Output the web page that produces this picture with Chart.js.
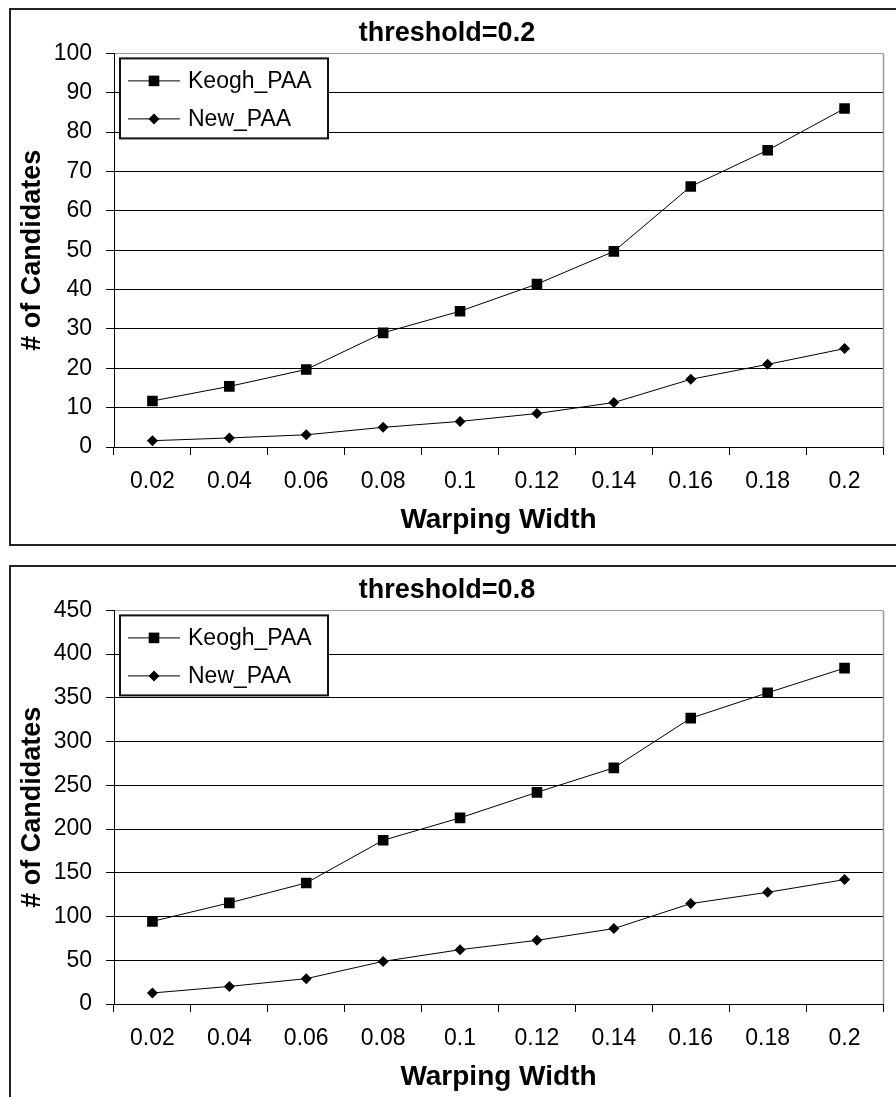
<!DOCTYPE html>
<html lang="en">
<head>
 <meta charset="UTF-8">
 <script src="https://cdn.jsdelivr.net/npm/chart.js"></script>
 <title>Candidates vs Warping Width</title>
 <style>
    * {
        margin: 0;
        padding: 0;
        box-sizing: content-box;
    }
    body {
        background: #fff;
        width: 896px;
        height: 1097px;
        overflow: hidden;
        position: relative;
    }
    .panel {
        position: absolute;
        left: 9px;
        width: 885px;
        height: 534px;
        border: 2px solid #222;
        background: #fff;
    }
    #panelLow { top: 8px; }
    #panelHigh { top: 565px; }
    canvas { display: block; }
 </style>
</head>
<body>

<div class="panel" id="panelLow"><canvas id="chartLow" width="885" height="534"></canvas></div>
<div class="panel" id="panelHigh"><canvas id="chartHigh" width="885" height="534"></canvas></div>

<script>
// data block
const warpWidths = ['0.02', '0.04', '0.06', '0.08', '0.1', '0.12', '0.14', '0.16', '0.18', '0.2'];

// threshold = 0.2
const keoghLow = [11.7, 15.4, 19.7, 29.0, 34.5, 41.4, 49.7, 66.2, 75.4, 86.0];
const newLow   = [1.6, 2.3, 3.1, 5.0, 6.5, 8.5, 11.3, 17.2, 21.0, 25.0];
const ticksLow = [0, 10, 20, 30, 40, 50, 60, 70, 80, 90, 100];

// threshold = 0.8
const keoghHigh = [94.5, 115.6, 138.4, 187.2, 212.8, 242, 270, 326.8, 355.8, 384];
const newHigh   = [12.6, 20.1, 29, 48.7, 62.1, 72.8, 86.2, 114.8, 127.7, 142.2];
const ticksHigh = [0, 50, 100, 150, 200, 250, 300, 350, 400, 450];

const FONT = "'Liberation Sans', Arial, sans-serif";

// draws one marker the same way for the plot and the legend
function marker(ctx, style, r, x, y) {
    ctx.beginPath();
    if (style === 'rect') {
        const s = r * Math.SQRT1_2;
        ctx.rect(x - s, y - s, 2 * s, 2 * s);
    } else {
        ctx.moveTo(x, y - r);
        ctx.lineTo(x + r, y);
        ctx.lineTo(x, y + r);
        ctx.lineTo(x - r, y);
        ctx.closePath();
    }
    ctx.fill();
}

// plot area frame on the right side (grey like the top grid line)
const frame = {
    id: 'frame',
    beforeDatasetsDraw(chart) {
        const { ctx, chartArea: { top, right, bottom } } = chart;
        ctx.save();
        ctx.strokeStyle = '#999';
        ctx.lineWidth = 1.5;
        const x = Math.round(right) + 0.5;
        ctx.beginPath();
        ctx.moveTo(x, top);
        ctx.lineTo(x, bottom);
        ctx.stroke();
        ctx.restore();
    }
};

// boxed legend inside the plot area, line + marker for each series
const boxLegend = {
    id: 'boxLegend',
    afterDraw(chart) {
        const { ctx, chartArea: { left, top } } = chart;
        const bx = left + 6, by = top + 5, bw = 208, bh = 80;
        ctx.save();
        ctx.fillStyle = '#fff';
        ctx.fillRect(bx, by, bw, bh);
        ctx.strokeStyle = '#111';
        ctx.lineWidth = 2;
        ctx.strokeRect(bx, by, bw, bh);
        chart.data.datasets.forEach((ds, i) => {
            const y = by + 22 + i * 38;
            ctx.strokeStyle = ds.borderColor;
            ctx.lineWidth = ds.borderWidth;
            ctx.beginPath();
            ctx.moveTo(bx + 8, y + 0.5);
            ctx.lineTo(bx + 60, y + 0.5);
            ctx.stroke();
            ctx.fillStyle = ds.pointBackgroundColor;
            marker(ctx, ds.pointStyle, ds.pointRadius, bx + 34, y + 0.5);
            ctx.fillStyle = '#000';
            ctx.font = '23px ' + FONT;
            ctx.textAlign = 'left';
            ctx.textBaseline = 'middle';
            ctx.fillText(ds.label, bx + 68, y + 1);
        });
        ctx.restore();
    }
};

function makeChart(id, title, keogh, newPaa, yTicks) {
    const yMax = yTicks[yTicks.length - 1];
    return new Chart(document.getElementById(id), {
        type: 'line',
        data: {
            labels: warpWidths,
            datasets: [{
                label: 'Keogh_PAA',
                data: keogh,
                borderColor: '#000',
                borderWidth: 1,
                pointStyle: 'rect',
                pointRadius: 7.5,
                pointBackgroundColor: '#000',
                pointBorderWidth: 0,
                tension: 0
            }, {
                label: 'New_PAA',
                data: newPaa,
                borderColor: '#000',
                borderWidth: 1,
                pointStyle: 'rectRot',
                pointRadius: 5.5,
                pointBackgroundColor: '#000',
                pointBorderWidth: 0,
                tension: 0
            }]
        },
        options: {
            responsive: false,
            animation: false,
            layout: { padding: { left: 0, right: 13, top: 0, bottom: 0 } },
            plugins: {
                legend: { display: false },
                tooltip: { enabled: false },
                title: {
                    display: true,
                    text: title,
                    color: '#000',
                    font: { family: FONT, size: 27, weight: 'bold' },
                    padding: { top: 7, bottom: 4 }
                }
            },
            scales: {
                x: {
                    type: 'category',
                    offset: true,
                    grid: {
                        offset: true,
                        drawOnChartArea: false,
                        drawTicks: true,
                        tickLength: 8,
                        color: '#000',
                        tickColor: '#000'
                    },
                    border: { display: true, color: '#000', width: 1 },
                    ticks: {
                        color: '#000',
                        font: { family: FONT, size: 23 },
                        padding: 13,
                        autoSkip: false,
                        maxRotation: 0
                    },
                    title: {
                        display: true,
                        text: 'Warping Width',
                        color: '#000',
                        font: { family: FONT, size: 28, weight: 'bold' },
                        padding: { top: 0, bottom: 7 }
                    },
                    afterFit(scale) { scale.height = 97; }
                },
                y: {
                    min: yTicks[0],
                    max: yMax,
                    ticks: {
                        stepSize: yTicks[1] - yTicks[0],
                        color: '#000',
                        font: { family: FONT, size: 23 },
                        padding: 14
                    },
                    grid: {
                        color: c => (c.tick && c.tick.value === yMax) ? '#999' : '#000',
                        tickColor: '#000',
                        tickLength: 8,
                        lineWidth: 1
                    },
                    border: { display: true, color: '#000', width: 1 },
                    title: {
                        display: true,
                        text: '# of Candidates',
                        color: '#000',
                        font: { family: FONT, size: 27, weight: 'bold' },
                        padding: { top: 5, bottom: 0 }
                    },
                    afterFit(scale) { scale.width = 103; }
                }
            }
        },
        plugins: [frame, boxLegend]
    });
}

makeChart('chartLow', 'threshold=0.2', keoghLow, newLow, ticksLow);
makeChart('chartHigh', 'threshold=0.8', keoghHigh, newHigh, ticksHigh);
</script>

</body>
</html>
